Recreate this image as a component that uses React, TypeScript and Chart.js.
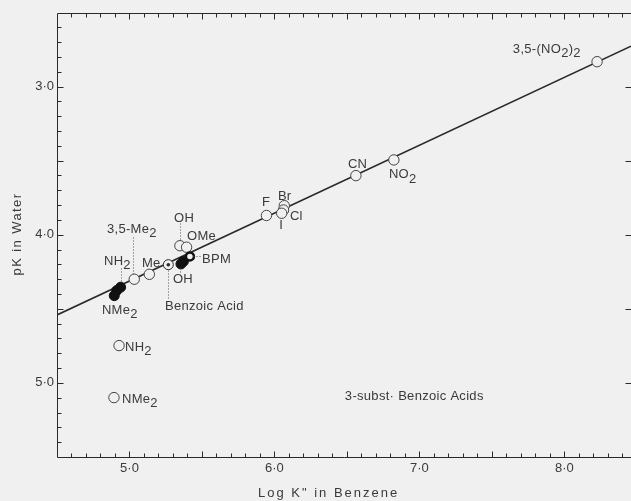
import React, { useEffect, useRef } from 'react';
import { Chart, registerables } from 'chart.js';

Chart.register(...registerables);

// ---- data (log K" in benzene, pK in water) ----
const openLogK = [8.226, 6.824, 6.562, 5.945, 6.068, 6.063, 6.05, 5.348, 5.394, 5.137, 5.033, 4.928, 4.893];
const openPK = [2.832, 3.495, 3.601, 3.87, 3.804, 3.833, 3.855, 4.074, 4.084, 4.267, 4.3, 4.748, 5.099];
const filledLogK = [5.372, 5.355, 4.939, 4.912, 4.895];
const filledPK = [4.18, 4.197, 4.354, 4.377, 4.411];
const bpmLogK = [5.417];
const bpmPK = [4.146];
const benzoicLogK = [5.268];
const benzoicPK = [4.202];
const fitLogK = [4.5, 8.46];
const fitPK = [4.541, 2.727];

const xTickValues = [5, 6, 7, 8];
const yTickValues = [3, 4, 5];

// annotation labels (text, anchor = left/baseline in data units)
const labelText = [
  '3,5-(NO_2)_2', 'CN', 'NO_2', 'F', 'Br', 'Cl', 'I', 'OH', 'OMe', 'BPM', 'OH',
  'Benzoic Acid', 'Me', 'NH_2', '3,5-Me_2', 'NMe_2', 'NH_2', 'NMe_2', '3-subst\u00b7 Benzoic Acids',
];
const labelLogK = [7.645, 6.507, 6.79, 5.914, 6.024, 6.107, 6.034, 5.307, 5.397, 5.5, 5.3, 5.245, 5.086, 4.824, 4.845, 4.81, 4.969, 4.948, 6.486];
const labelPK = [2.773, 3.549, 3.617, 3.806, 3.765, 3.9, 3.961, 3.914, 4.035, 4.19, 4.325, 4.507, 4.217, 4.204, 3.988, 4.534, 4.782, 5.135, 5.115];

// dotted leader lines [logK1, pK1, logK2, pK2]
const leaderLines = [
  [5.022, 4.015, 5.022, 4.271],
  [4.941, 4.224, 4.941, 4.325],
  [5.35, 3.92, 5.35, 4.042],
  [5.263, 4.238, 5.263, 4.426],
  [5.348, 4.224, 5.348, 4.262],
  [5.438, 4.143, 5.49, 4.143],
];

const xTitle = 'Log K" in Benzene';
const yTitle = 'pK in Water';

const FONT = '"Liberation Sans", Arial, sans-serif';
const TEXT = '#3a3a3a';
const INK = '#2a2a2a';
const BG = '#f0f0f0';

function fmt(v: number) {
  return v.toFixed(1).replace('.', '\u00b7');
}

function drawRich(ctx: CanvasRenderingContext2D, text: string, x: number, y: number) {
  const parts = text.split(/(_\d)/).filter(Boolean);
  let cx = x;
  for (const p of parts) {
    if (p.startsWith('_')) {
      const s = p.slice(1);
      ctx.fillText(s, cx, y + 4.5);
      cx += ctx.measureText(s).width;
    } else {
      ctx.fillText(p, cx, y);
      cx += ctx.measureText(p).width;
    }
  }
}

function drawFrame(chart: any) {
  const ctx: CanvasRenderingContext2D = chart.ctx;
  const { left, right, top, bottom } = chart.chartArea;
  const xs = chart.scales.x;
  const ys = chart.scales.y;
  const L = Math.round(left) + 0.5;
  const T = Math.round(top) + 0.5;
  const B = Math.round(bottom) + 0.5;
  const R = Math.round(right) - 0.5;
  ctx.save();
  ctx.strokeStyle = INK;
  ctx.lineWidth = 1;
  ctx.beginPath();
  ctx.moveTo(L, T);
  ctx.lineTo(right, T);
  ctx.moveTo(L, T);
  ctx.lineTo(L, B);
  ctx.lineTo(right, B);
  ctx.stroke();
  // inward tick marks
  ctx.beginPath();
  for (let i = 46; i <= 84; i++) {
    const px = Math.round(xs.getPixelForValue(i / 10)) + 0.5;
    const len = i % 5 === 0 ? 6 : 4;
    ctx.moveTo(px, B);
    ctx.lineTo(px, B - len);
    ctx.moveTo(px, T);
    ctx.lineTo(px, T + len);
  }
  for (let i = 26; i <= 54; i++) {
    const py = Math.round(ys.getPixelForValue(i / 10)) + 0.5;
    const major = i % 5 === 0;
    const len = major ? 6 : 4;
    ctx.moveTo(L, py);
    ctx.lineTo(L + len, py);
    if (major) {
      ctx.moveTo(R + 1, py);
      ctx.lineTo(R + 1 - len, py);
    }
  }
  ctx.stroke();
  ctx.restore();
}

const decorPlugin = {
  id: 'decor',
  beforeDraw(chart: any) {
    const ctx = chart.ctx;
    ctx.save();
    ctx.fillStyle = BG;
    ctx.fillRect(0, 0, chart.width, chart.height);
    ctx.restore();
  },
  afterDatasetsDraw(chart: any) {
    const ctx: CanvasRenderingContext2D = chart.ctx;
    const xs = chart.scales.x;
    const ys = chart.scales.y;
    ctx.save();
    // leaders
    ctx.strokeStyle = '#555';
    ctx.lineWidth = 1;
    ctx.setLineDash([1, 2]);
    for (const [a, b, c, d] of leaderLines) {
      ctx.beginPath();
      const x1 = Math.round(xs.getPixelForValue(a)) + 0.5;
      const x2 = Math.round(xs.getPixelForValue(c)) + 0.5;
      const y1 = Math.round(ys.getPixelForValue(b)) + 0.5;
      const y2 = Math.round(ys.getPixelForValue(d)) + 0.5;
      ctx.moveTo(x1, y1);
      ctx.lineTo(x2, y2);
      ctx.stroke();
    }
    ctx.setLineDash([]);
    // labels
    ctx.fillStyle = TEXT;
    ctx.font = `13px ${FONT}`;
    (ctx as any).letterSpacing = '0.3px';
    ctx.textAlign = 'left';
    ctx.textBaseline = 'alphabetic';
    labelText.forEach((t, i) => {
      drawRich(ctx, t, xs.getPixelForValue(labelLogK[i]), ys.getPixelForValue(labelPK[i]));
    });
    // axis titles
    (ctx as any).letterSpacing = '2px';
    ctx.fillText(xTitle, 258, 497);
    ctx.translate(17.5, 234);
    ctx.rotate(-Math.PI / 2);
    ctx.textAlign = 'center';
    ctx.textBaseline = 'middle';
    (ctx as any).letterSpacing = '1.4px';
    ctx.fillText(yTitle, 0, 0);
    ctx.restore();
  },
  afterDraw(chart: any) {
    drawFrame(chart);
  },
};

export default function App() {
  const ref = useRef<HTMLCanvasElement>(null);
  useEffect(() => {
    const toPts = (xs: number[], ys: number[]) => xs.map((x, i) => ({ x, y: ys[i] }));
    const chart = new Chart(ref.current!, {
      type: 'scatter',
      data: {
        datasets: [
          {
            data: toPts(benzoicLogK, benzoicPK),
            pointRadius: 1.8,
            pointBackgroundColor: INK,
            pointBorderColor: INK,
            pointBorderWidth: 0,
            order: 0,
          },
          {
            data: toPts(benzoicLogK, benzoicPK),
            pointRadius: 5,
            pointBackgroundColor: BG,
            pointBorderColor: INK,
            pointBorderWidth: 1,
            order: 1,
          },
          {
            data: toPts(bpmLogK, bpmPK),
            pointRadius: 4,
            pointBackgroundColor: BG,
            pointBorderColor: '#111',
            pointBorderWidth: 2.5,
            order: 2,
          },
          {
            data: toPts(filledLogK, filledPK),
            pointRadius: 5,
            pointBackgroundColor: '#111',
            pointBorderColor: '#111',
            pointBorderWidth: 1,
            order: 3,
          },
          {
            data: toPts(openLogK, openPK),
            pointRadius: 5.2,
            pointBackgroundColor: BG,
            pointBorderColor: '#444',
            pointBorderWidth: 1,
            order: 4,
          },
          {
            data: toPts(fitLogK, fitPK),
            showLine: true,
            pointRadius: 0,
            borderColor: INK,
            borderWidth: 1.6,
            order: 10,
          },
        ],
      },
      options: {
        responsive: false,
        animation: false,
        events: [],
        layout: { autoPadding: false, padding: { top: 12.5, right: 0, left: 0, bottom: 0 } },
        plugins: { legend: { display: false }, tooltip: { enabled: false } },
        scales: {
          x: {
            type: 'linear',
            min: 4.5,
            max: 8.46,
            grid: { display: false, drawTicks: false },
            border: { display: false },
            afterBuildTicks: (s: any) => {
              s.ticks = xTickValues.map((v) => ({ value: v }));
            },
            afterFit: (s: any) => {
              s.height = 44;
              s.paddingLeft = 0;
              s.paddingRight = 0;
            },
            ticks: {
              padding: 4,
              color: TEXT,
              font: { family: FONT, size: 13 },
              callback: (v: any) => fmt(Number(v)),
              maxRotation: 0,
            },
          },
          y: {
            type: 'linear',
            min: 2.5,
            max: 5.5,
            reverse: true,
            grid: { display: false, drawTicks: false },
            border: { display: false },
            afterBuildTicks: (s: any) => {
              s.ticks = yTickValues.map((v) => ({ value: v }));
            },
            afterFit: (s: any) => {
              s.width = 57;
              s.paddingTop = 0;
              s.paddingBottom = 0;
            },
            ticks: {
              padding: 3,
              color: TEXT,
              font: { family: FONT, size: 13 },
              callback: (v: any) => fmt(Number(v)),
            },
          },
        },
      },
      plugins: [decorPlugin],
    } as any);
    return () => chart.destroy();
  }, []);
  return (
    <div style={{ position: 'fixed', left: 0, top: 0, width: 631, height: 501, background: BG }}>
      <canvas ref={ref} width={631} height={501} style={{ display: 'block', width: 631, height: 501 }} />
    </div>
  );
}
